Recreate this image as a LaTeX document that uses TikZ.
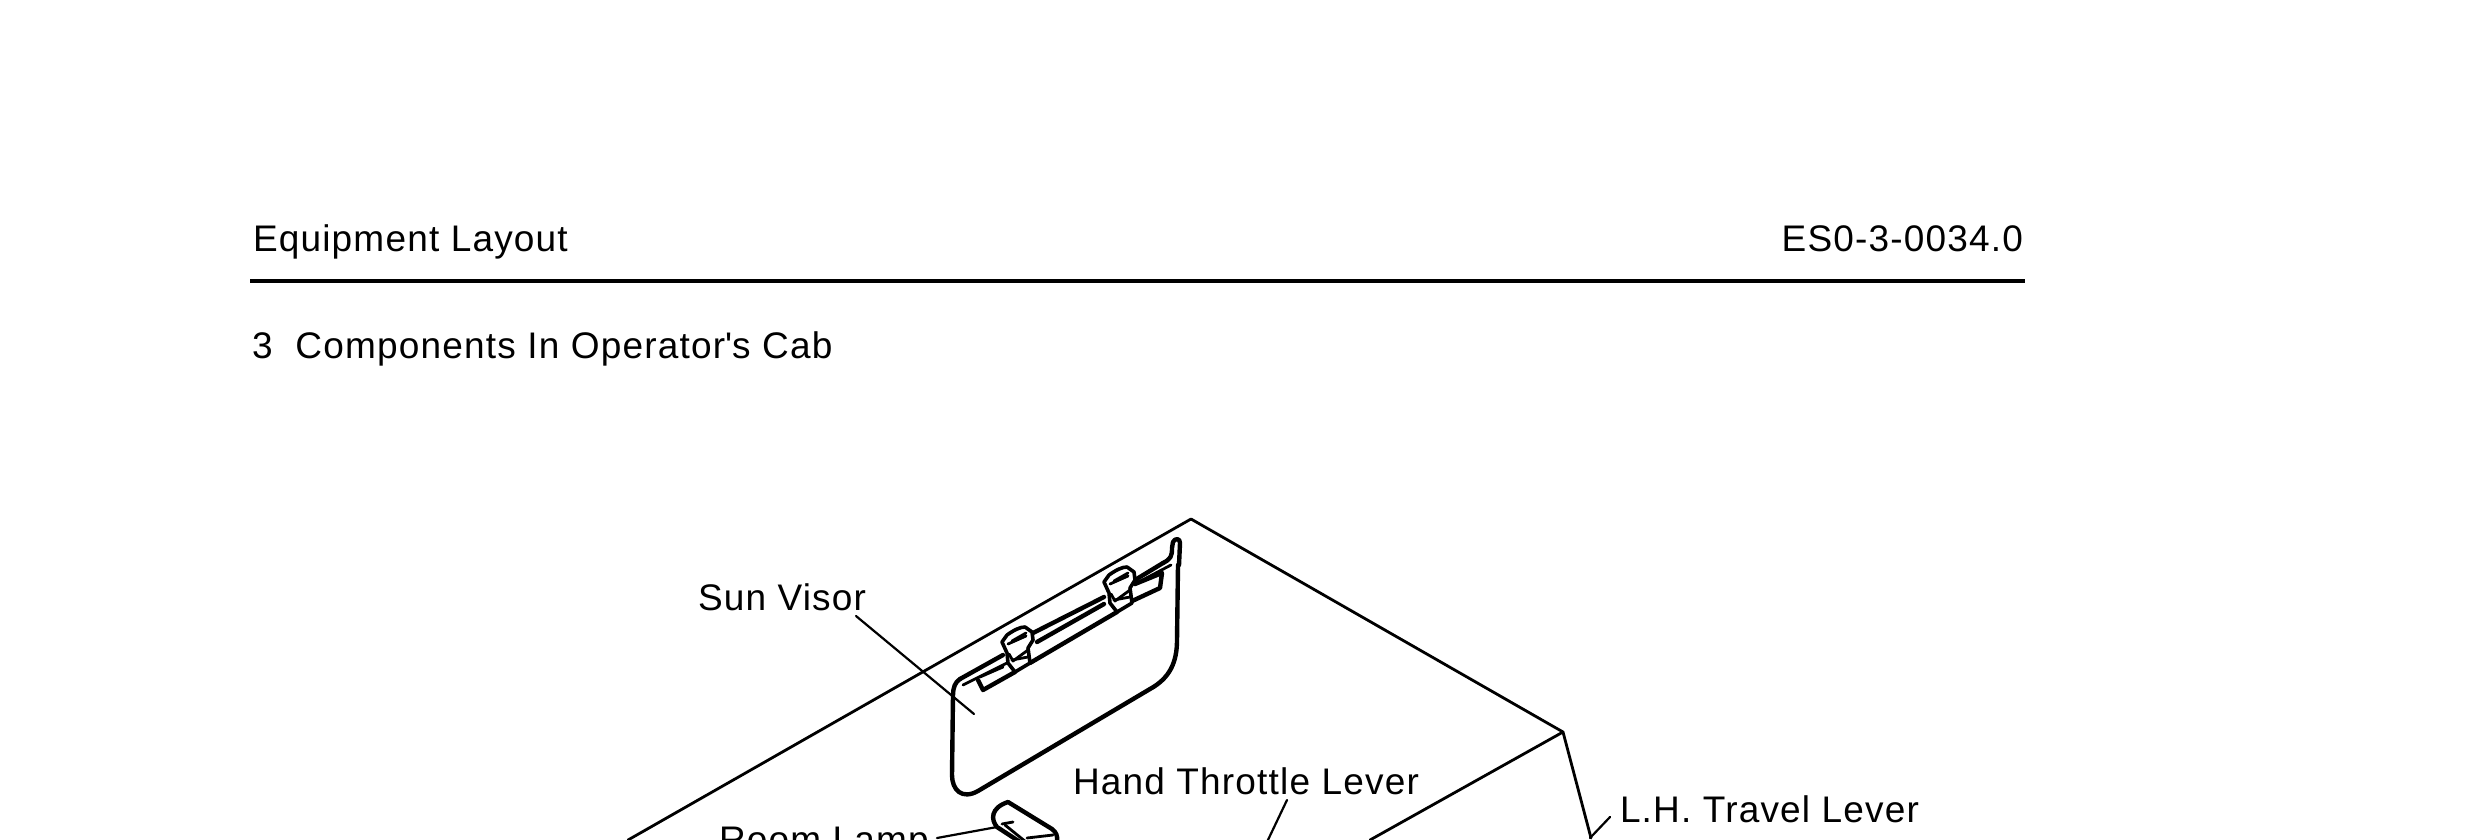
\documentclass[tikz,border=0pt]{standalone}
\usepackage{fontspec}
\setmainfont[LetterSpace=3.2]{Liberation Sans}
\newfontfamily\plainapos[LetterSpace=3.2]{Liberation Sans}
\tikzset{
  lbl/.style={inner sep=0pt,outer sep=0pt,anchor=base west,font=\fontsize{37}{40}\selectfont,text=black},
  thin line/.style={draw=black,line width=2.8pt,line join=round,line cap=round},
  leader/.style={draw=black,line width=2.2pt,line cap=round},
  heavy/.style={draw=black,line width=4.4pt,line join=round,line cap=round},
  rulel/.style={draw=black,line width=3.8pt},
  visorclip/.pic={
    \draw[thin line,line width=3.6pt,fill=white] (0,0) -- (5,-7) .. controls (12,-12) and (18,-15) .. (23,-15) -- (30,-10) -- (31,-2) -- (26,6) -- (28,21) -- (13,30) -- (6,21) -- (5,11) -- cycle;
    \draw[thin line] (6,2) -- (24,-6);
    \draw[thin line] (10,-1) -- (24,-9);
    \draw[thin line] (10,18) -- (26,15);
    \draw[thin line] (7,12) -- (11,19) -- (26,8);
  }
}
\begin{document}
\begin{tikzpicture}[x=1pt,y=-1pt]
\useasboundingbox[fill=white] (0,0) rectangle (2476,840);
\node[lbl] (eq) at (253,251) {Equipment Layout};
\node[lbl,anchor=base east] (es) at (2023,251) {ES0-3-0034.0};
\node[lbl] (comp) at (252,358) {3\ \ Components In Operator{\plainapos '}s Cab};
\coordinate (r1) at (250,281);
\coordinate (r2) at (2025,281);
\draw[rulel] (r1) -- (r2);
% cab outline
\coordinate (o1) at (628,840);
\coordinate (top) at (1191,519);
\coordinate (rc) at (1563,732);
\coordinate (o2) at (1370,840);
\coordinate (o3) at (1591,838);
\draw[thin line] (o1) -- (top) -- (rc) -- (o3);
\draw[thin line] (o2) -- (rc);
% sun visor body
\draw[heavy,fill=white] (960,679) .. controls (955,682) and (953,688) .. (953,695) -- (952,775) .. controls (952,790) and (962,800) .. (978,791) -- (1150,689) .. controls (1170,678) and (1177,662) .. (1177,640) -- (1178,565);
% hook at the right
\draw[heavy] (1163,563) .. controls (1171,559) and (1172,556) .. (1172,548) -- (1173,542) .. controls (1175,538) and (1180,538) .. (1180,543) -- (1179,565);
% rails
\draw[heavy] (960,679) -- (1003,655);
\draw[thin line] (963,685) -- (1007,663);
\draw[heavy] (1033,633) -- (1104,597);
\draw[heavy] (1037,642) -- (1104,604);
\draw[heavy] (1135,580) -- (1163,563);
\draw[thin line] (1135,584) -- (1171,565);
% recess
\draw[heavy] (978,680) -- (983,690) -- (1015,672);
\draw[thin line] (980,677) -- (1003,667);
\draw[heavy] (1030,663) -- (1117,612);
\draw[heavy] (1130,602) -- (1160,588) -- (1162,573) -- (1135,584);
\pic at (1002,642) {visorclip};
\pic at (1104,582) {visorclip};
% Sun Visor label
\node[lbl] (sv) at (698,610) {Sun Visor};
\coordinate (svs) at (856,616);
\coordinate (svt) at (974,714);
\draw[leader] (svs) -- (svt);
% Room lamp
\node[lbl] (rl) at (719,852) {Room Lamp};
\coordinate (rlt) at (997,827);
\coordinate (rls) at (937,838);
\draw[leader] (rls) -- (rlt);
\draw[heavy] (1020,842) -- (997,827) .. controls (991,820) and (990,808) .. (1008,802) -- (1052,829) .. controls (1056,832) and (1058,836) .. (1057,842);
\draw[thin line] (1002,824) -- (1013,822);
\draw[thin line] (1005,825) -- (1026,842);
\draw[thin line] (1027,838) -- (1053,835);
% Labels
\node[lbl] (ht) at (1073,794) {Hand Throttle Lever};
\coordinate (hts) at (1287,800);
\coordinate (htt) at (1267,842);
\draw[leader] (hts) -- (htt);
\node[lbl] (lh) at (1620,822) {L.H. Travel Lever};
\coordinate (lhs) at (1610,817);
\coordinate (lht) at (1590,838);
\draw[leader] (lhs) -- (lht);
\end{tikzpicture}
\end{document}
